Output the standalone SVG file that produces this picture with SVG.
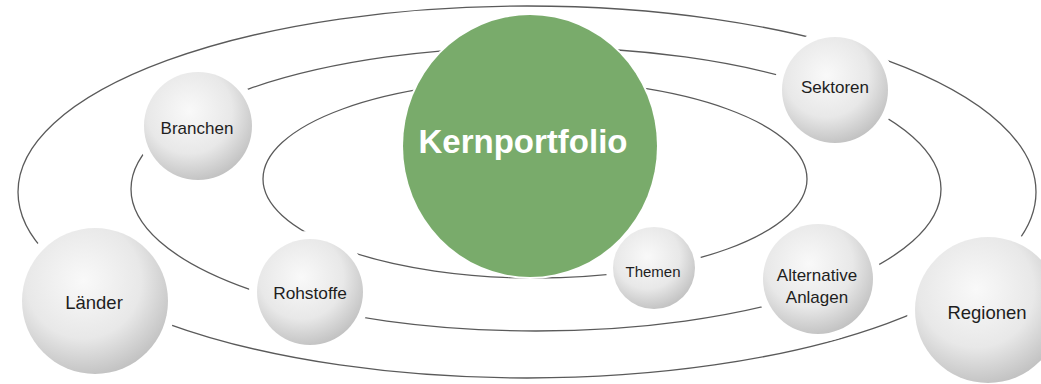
<svg xmlns="http://www.w3.org/2000/svg" width="1041" height="384" viewBox="0 0 1041 384">
  <defs>
    <radialGradient id="ball" cx="0.42" cy="0.36" r="0.72">
      <stop offset="0" stop-color="#f9f9f9"/>
      <stop offset="0.55" stop-color="#e8e8e8"/>
      <stop offset="1" stop-color="#b9b9b9"/>
    </radialGradient>
    <style>
      .orbit { fill: none; stroke: #5a5a5a; stroke-width: 1.3; }
      .halo { fill: #ffffff; }
      .ball { fill: url(#ball); }
      .lbl { font-family: "Liberation Sans", Arial, sans-serif; fill: #1e1e1e; text-anchor: middle; }
      .core { font-family: "Liberation Sans", Arial, sans-serif; font-weight: bold; font-size: 33px; fill: #ffffff; text-anchor: middle; }
    </style>
  </defs>
  <rect width="1041" height="384" fill="#ffffff"/>

  <g id="connectors">
    <ellipse class="orbit" cx="527" cy="192" rx="509" ry="186"/>
    <ellipse class="orbit" cx="536" cy="189" rx="405" ry="142"/>
    <ellipse class="orbit" cx="535" cy="179" rx="272" ry="99"/>
  </g>

  <g id="laender">
    <circle class="halo" cx="95" cy="301" r="81"/>
    <circle class="ball" cx="95" cy="301" r="73"/>
    <text class="lbl" x="94" y="309" font-size="18.5">Länder</text>
  </g>

  <g id="branchen">
    <circle class="halo" cx="198" cy="126" r="62"/>
    <circle class="ball" cx="198" cy="126" r="54"/>
    <text class="lbl" x="197" y="134" font-size="17">Branchen</text>
  </g>

  <g id="rohstoffe">
    <circle class="halo" cx="310" cy="292" r="61"/>
    <circle class="ball" cx="310" cy="292" r="53"/>
    <text class="lbl" x="310" y="299" font-size="17.3">Rohstoffe</text>
  </g>

  <g id="themen">
    <circle class="halo" cx="654" cy="268" r="48"/>
    <circle class="ball" cx="654" cy="268" r="41"/>
    <text class="lbl" x="653" y="277" font-size="15">Themen</text>
  </g>

  <g id="alternative-anlagen">
    <circle class="halo" cx="818" cy="279" r="63"/>
    <circle class="ball" cx="818" cy="279" r="55"/>
    <text class="lbl" x="817" y="281" font-size="17">Alternative</text>
    <text class="lbl" x="817" y="303" font-size="17">Anlagen</text>
  </g>

  <g id="sektoren">
    <circle class="halo" cx="835" cy="90" r="61"/>
    <circle class="ball" cx="835" cy="90" r="53"/>
    <text class="lbl" x="835" y="93" font-size="17">Sektoren</text>
  </g>

  <g id="regionen">
    <circle class="halo" cx="988" cy="310" r="81"/>
    <circle class="ball" cx="988" cy="310" r="73"/>
    <text class="lbl" x="987" y="319" font-size="18.5">Regionen</text>
  </g>

  <g id="kernportfolio">
    <ellipse class="halo" cx="530" cy="146" rx="129" ry="133"/>
    <ellipse cx="530" cy="146" rx="127" ry="131" fill="#79ab6b"/>
    <text class="core" x="523" y="153">Kernportfolio</text>
  </g>
</svg>
